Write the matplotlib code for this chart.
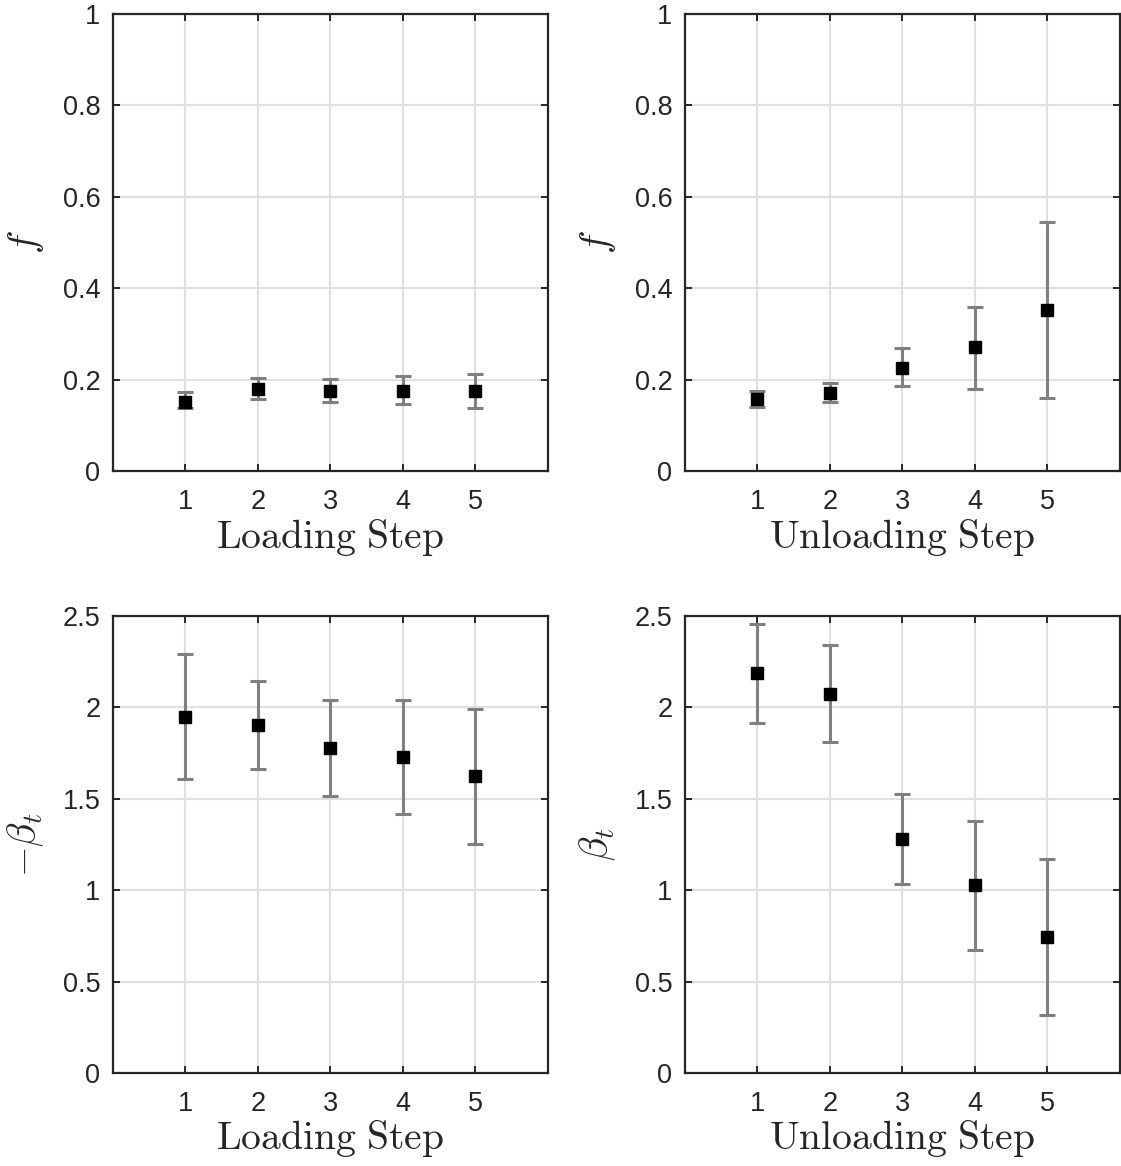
import matplotlib
matplotlib.use("Agg")
import matplotlib.pyplot as plt
import numpy as np

# -------------------------------
# Data
# -------------------------------
steps = [1, 2, 3, 4, 5]

f_load = [0.152, 0.180, 0.175, 0.175, 0.175]
f_load_lo = [0.139, 0.157, 0.152, 0.146, 0.139]
f_load_hi = [0.172, 0.203, 0.201, 0.207, 0.212]

f_unload = [0.157, 0.171, 0.226, 0.272, 0.353]
f_unload_lo = [0.140, 0.151, 0.186, 0.180, 0.159]
f_unload_hi = [0.175, 0.193, 0.270, 0.359, 0.544]

beta_load = [1.949, 1.901, 1.778, 1.729, 1.624]
beta_load_lo = [1.610, 1.661, 1.515, 1.416, 1.253]
beta_load_hi = [2.292, 2.144, 2.038, 2.040, 1.991]

beta_unload = [2.188, 2.073, 1.279, 1.026, 0.741]
beta_unload_lo = [1.916, 1.812, 1.035, 0.673, 0.318]
beta_unload_hi = [2.456, 2.338, 1.526, 1.380, 1.168]

f_ticks = [0, 0.2, 0.4, 0.6, 0.8, 1]
f_ticklabels = ["0", "0.2", "0.4", "0.6", "0.8", "1"]
b_ticks = [0, 0.5, 1, 1.5, 2, 2.5]
b_ticklabels = ["0", "0.5", "1", "1.5", "2", "2.5"]

# -------------------------------
# Style
# -------------------------------
plt.rcParams['font.family'] = ['Liberation Sans', 'DejaVu Sans']
plt.rcParams['mathtext.fontset'] = 'cm'

fig = plt.figure(figsize=(11.21, 11.66), dpi=100)

panels = [
    # left, bottom, values, lo, hi, ylim, ticks, labels, ylabel, xlabel
    (0.1008, 0.596, f_load, f_load_lo, f_load_hi, (0, 1), f_ticks, f_ticklabels,
     r'$f$', r'$\mathrm{Loading\ Step}$'),
    (0.6110, 0.596, f_unload, f_unload_lo, f_unload_hi, (0, 1), f_ticks, f_ticklabels,
     r'$f$', r'$\mathrm{Unloading\ Step}$'),
    (0.1008, 0.0798, beta_load, beta_load_lo, beta_load_hi, (0, 2.5), b_ticks, b_ticklabels,
     r'$-\beta_t$', r'$\mathrm{Loading\ Step}$'),
    (0.6110, 0.0798, beta_unload, beta_unload_lo, beta_unload_hi, (0, 2.5), b_ticks, b_ticklabels,
     r'$\beta_t$', r'$\mathrm{Unloading\ Step}$'),
]

edge = '#262626'

for left, bottom, vals, lo, hi, ylim, ticks, labels, ylab, xlab in panels:
    ax = fig.add_axes([left, bottom, 0.388, 0.392])
    vals = np.array(vals)
    yerr = np.vstack([vals - np.array(lo), np.array(hi) - vals])

    ax.errorbar(steps, vals, yerr=yerr, fmt='none', ecolor='#808080',
                elinewidth=2.2, capsize=6, capthick=2.2, zorder=3)
    ax.plot(steps, vals, 's', color='black', markersize=8, zorder=4)

    ax.set_xlim(0, 6)
    ax.set_ylim(*ylim)
    ax.set_xticks(steps)
    ax.set_yticks(ticks)
    ax.set_yticklabels(labels)

    ax.grid(True, color='#e0e0e0', linewidth=1.5)
    ax.set_axisbelow(True)

    for s in ax.spines.values():
        s.set_color(edge)
        s.set_linewidth(1.6)
    ax.tick_params(direction='in', length=5, width=1.4, color=edge,
                   labelsize=19.5, labelcolor='#262626', top=True, right=True)
    ax.tick_params(axis='x', pad=13)
    ax.tick_params(axis='y', pad=9)

    ax.set_xlabel(xlab, fontsize=28.5, color='#262626', labelpad=1)
    ax.set_ylabel(ylab, fontsize=28.5, color='#262626', labelpad=12)

fig.savefig('out.png', dpi=100)
